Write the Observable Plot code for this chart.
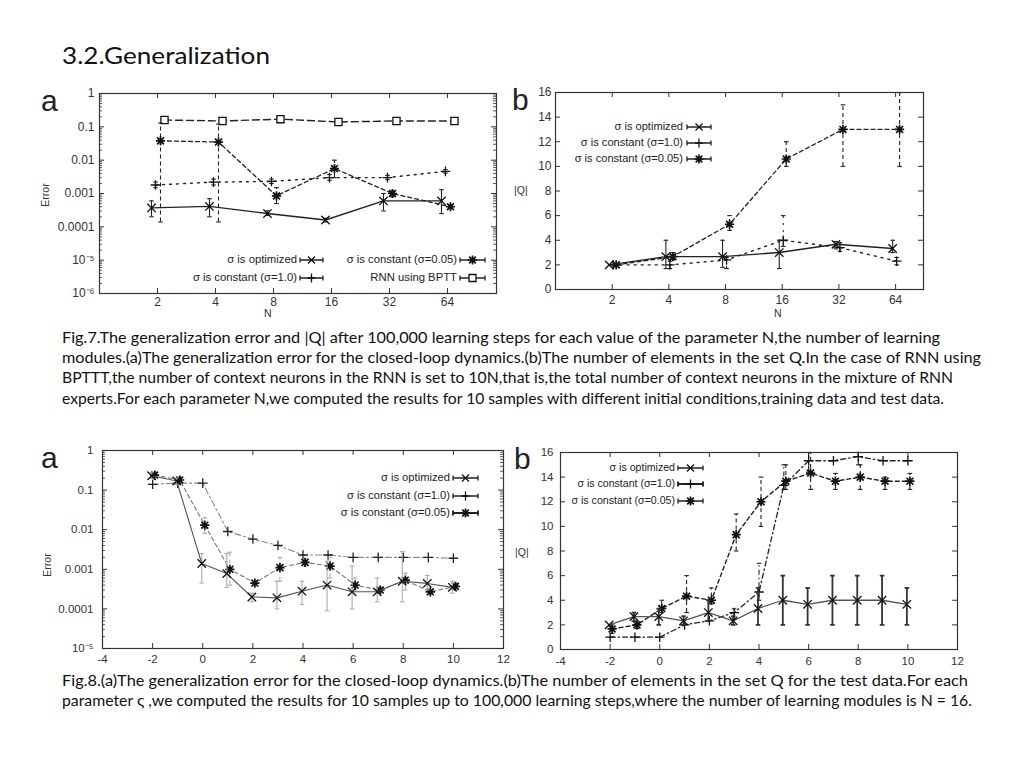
<!DOCTYPE html>
<html><head><meta charset="utf-8">
<script src="https://cdn.jsdelivr.net/npm/d3@7"></script>
<script src="https://cdn.jsdelivr.net/npm/@observablehq/plot@0.6"></script>
<style>
html,body{margin:0;padding:0;background:#fff;}
body{width:1024px;height:768px;position:relative;overflow:hidden;font-family:Lato,"Open Sans",sans-serif;color:#111;}
.fit{position:absolute;white-space:nowrap;display:inline-block;transform-origin:left center;line-height:20px;}
.chart{position:absolute;}
.chart svg{background:transparent;overflow:visible;}
.lbl{position:absolute;font-family:"Liberation Sans",Arial,sans-serif;color:#333;white-space:nowrap;}
.big{font-size:30px;line-height:30px;color:#222;}
.leg{position:absolute;font-family:"Liberation Sans",Arial,sans-serif;color:#222;white-space:nowrap;line-height:13px;}
</style></head><body>
<div class="fit" id="title" data-w="208" style="left:62px;top:41px;font-size:24px;line-height:28px;color:#111;">3.2.Generalization</div>

<div class="fit" data-w="878" style="left:62px;top:327px;font-size:15px;">Fig.7.The generalization error and |Q| after 100,000 learning steps for each value of the parameter N,the number of learning</div>
<div class="fit" data-w="919" style="left:62px;top:347px;font-size:15px;">modules.(a)The generalization error for the closed-loop dynamics.(b)The number of elements in the set Q.In the case of RNN using</div>
<div class="fit" data-w="891" style="left:62px;top:367px;font-size:15px;">BPTTT,the number of context neurons in the RNN is set to 10N,that is,the total number of context neurons in the mixture of RNN</div>
<div class="fit" data-w="882" style="left:62px;top:388px;font-size:15px;">experts.For each parameter N,we computed the results for 10 samples with different initial conditions,training data and test data.</div>

<div class="fit" data-w="906" style="left:62px;top:670px;font-size:15px;">Fig.8.(a)The generalization error for the closed-loop dynamics.(b)The number of elements in the set Q for the test data.For each</div>
<div class="fit" data-w="910" style="left:62px;top:690px;font-size:15px;">parameter ς ,we computed the results for 10 samples up to 100,000 learning steps,where the number of learning modules is N = 16.</div>

<div id="c1" class="chart" style="left:30px;top:85px;"></div>
<div id="c2" class="chart" style="left:505px;top:85px;"></div>
<div id="c3" class="chart" style="left:30px;top:440px;"></div>
<div id="c4" class="chart" style="left:510px;top:440px;"></div>

<div class="lbl big" style="left:41px;top:86px;">a</div>
<div class="lbl big" style="left:512px;top:85px;">b</div>
<div class="lbl big" style="left:41px;top:443px;">a</div>
<div class="lbl big" style="left:514px;top:444px;">b</div>

<div class="lbl" style="left:28px;top:189px;font-size:10.5px;transform:rotate(-90deg);width:34px;text-align:center;">Error</div>
<div class="lbl" style="left:30px;top:559px;font-size:10.5px;transform:rotate(-90deg);width:34px;text-align:center;">Error</div>
<div class="lbl" style="left:264px;top:308px;font-size:10.5px;line-height:11px;">N</div>
<div class="lbl" style="left:774px;top:308px;font-size:10.5px;line-height:11px;">N</div>
<div class="lbl" style="left:514px;top:184px;font-size:10.5px;">|Q|</div>
<div class="lbl" style="left:515px;top:546px;font-size:10.5px;">|Q|</div>

<div id="legends"></div>

<script>
// ---------------- DATA ----------------
const N_VALUES = [2, 4, 8, 16, 32, 64];
const ZETA = [-2, -1, 0, 1, 2, 3, 4, 5, 6, 7, 8, 9, 10];

const LOG_TICKS_7A = [1, 0.1, 0.01, 0.001, 0.0001, 1e-5, 1e-6];
const LOG_LABELS_7A = ["1", "0.1", "0.01", "0.001", "0.0001", "10⁻⁵", "10⁻⁶"];
const LOG_TICKS_8A = [1, 0.1, 0.01, 0.001, 0.0001, 1e-5];
const LOG_LABELS_8A = ["1", "0.1", "0.01", "0.001", "0.0001", "10⁻⁵"];
const Q_TICKS = [0, 2, 4, 6, 8, 10, 12, 14, 16];
const ZETA_TICKS = [-4, -2, 0, 2, 4, 6, 8, 10, 12];

const SERIES_NAMES = ["σ is optimized", "σ is constant (σ=1.0)", "σ is constant (σ=0.05)", "RNN using BPTT"];

// Fig.7(a) error vs N
const f7a_opt   = [0.00037, 0.00041, 0.00025, 0.00016, 0.0006, 0.0006];
const f7a_optLo = [0.0002, 0.0002, 0.00022, 0.00014, 0.0003, 0.00025];
const f7a_optHi = [0.0006, 0.0007, 0.0003, 0.00018, 0.001, 0.0013];
const f7a_s1    = [0.0018, 0.0022, 0.0023, 0.003, 0.003, 0.0046];
const f7a_s1Lo  = [0.0015, 0.0018, 0.002, 0.0025, 0.0026, 0.0041];
const f7a_s1Hi  = [0.0022, 0.0027, 0.0027, 0.0037, 0.0035, 0.0052];
const f7a_s05   = [0.038, 0.035, 0.00085, 0.0056, 0.001, 0.0004];
const f7a_s05Lo = [0.00014, 0.00014, 0.0005, 0.003, 0.0008, 0.00036];
const f7a_s05Hi = [0.13, 0.12, 0.0015, 0.01, 0.0012, 0.00045];
const f7a_bptt  = [0.16, 0.15, 0.17, 0.14, 0.15, 0.15];

// Fig.7(b) |Q| vs N
const f7b_opt   = [2, 2.67, 2.67, 3, 3.67, 3.33];
const f7b_optLo = [2, 1.7, 1.8, 1.7, 3.3, 3];
const f7b_optHi = [2, 4, 4, 4, 3.9, 4];
const f7b_s1    = [2, 2, 2.4, 4, 3.4, 2.3];
const f7b_s1Lo  = [2, 1.7, 1.7, 3.5, 3.1, 2];
const f7b_s1Hi  = [2, 2.3, 2.6, 6, 3.8, 2.6];
const f7b_s05   = [2, 2.67, 5.3, 10.6, 13, 13];
const f7b_s05Lo = [2, 2.4, 4.8, 10, 10, 10];
const f7b_s05Hi = [2, 3, 6, 12, 15, 16];

// Fig.8(a) error vs zeta
const f8a_opt   = [0.23, 0.17, 0.0014, 0.00078, 0.0002, 0.00019, 0.00028, 0.0004, 0.00027, 0.00027, 0.0005, 0.00044, 0.00035];
const f8a_optLo = [0.2, 0.14, 0.00045, 0.00035, 0.00015, 0.0001, 0.00013, 0.00009, 0.0001, 0.00015, 0.00015, 0.0003, 0.00025];
const f8a_optHi = [0.27, 0.2, 0.0025, 0.0025, 0.00025, 0.0005, 0.0005, 0.0016, 0.0012, 0.0006, 0.0028, 0.0007, 0.0005];
const f8a_s1    = [0.14, 0.15, 0.15, 0.009, 0.0058, 0.004, 0.0023, 0.0023, 0.002, 0.002, 0.002, 0.002, 0.0019];
const f8a_s05   = [0.24, 0.18, 0.013, 0.001, 0.00045, 0.0011, 0.0015, 0.0012, 0.0004, 0.0003, 0.00053, 0.00027, 0.00037];
const f8a_s05Lo = [0.21, 0.15, 0.008, 0.0004, 0.00038, 0.0005, 0.0012, 0.0006, 0.0003, 0.00025, 0.0003, 0.00023, 0.0003];
const f8a_s05Hi = [0.27, 0.21, 0.02, 0.0027, 0.0005, 0.002, 0.0018, 0.002, 0.0006, 0.00035, 0.0008, 0.0003, 0.00045];

// Fig.8(b) |Q| vs zeta
const f8b_opt   = [2, 2.67, 2.67, 2.33, 3, 2.33, 3.33, 4, 3.67, 4, 4, 4, 3.67];
const f8b_optLo = [null, 2.3, 2, 2, 2.3, 2, 2, 2, 2, 2, 2, 2, 2];
const f8b_optHi = [null, 3, 3.3, 2.7, 4, 2.7, 5, 6, 5, 6, 6, 6, 5];
const f8b_s1    = [1, 1, 1, 2, 2.33, 3, 4.67, 13.33, 15.33, 15.33, 15.67, 15.33, 15.33];
const f8b_s1Lo  = [null, null, null, null, null, 2.5, 4, 13, 14.5, null, 15, null, null];
const f8b_s1Hi  = [null, null, null, null, null, 3.3, 7, 15, 16, null, 16, null, null];
const f8b_s05   = [1.67, 2, 3.33, 4.33, 4, 9.33, 12, 13.67, 14.33, 13.67, 14, 13.67, 13.67];
const f8b_s05Lo = [1.3, 1.7, 3, 3, 3.7, 8, 10, 13, 13, 13, 13, 13, 13];
const f8b_s05Hi = [2, 2.3, 4, 6, 5, 11, 14, 15, 16, 14.3, 15, 14, 14.3];

// ---------------- SYMBOLS ----------------
const rad = s => Math.sqrt(s / Math.PI);
const capSym = {draw(c, s) { const r = rad(s); c.moveTo(-r, 0); c.lineTo(r, 0); }};
const timesSym = {draw(c, s) { const r = rad(s); c.moveTo(-r, -r); c.lineTo(r, r); c.moveTo(-r, r); c.lineTo(r, -r); }};
const plusSym = {draw(c, s) { const r = rad(s) * 1.2; c.moveTo(-r, 0); c.lineTo(r, 0); c.moveTo(0, -r); c.lineTo(0, r); }};
const starSym = {draw(c, s) { const r = rad(s) * 1.15, q = r * 0.75; c.moveTo(-r, 0); c.lineTo(r, 0); c.moveTo(0, -r); c.lineTo(0, r); c.moveTo(-q, -q); c.lineTo(q, q); c.moveTo(-q, q); c.lineTo(q, -q); }};
const squareSym = {draw(c, s) { const r = rad(s); c.moveTo(-r, -r); c.lineTo(r, -r); c.lineTo(r, r); c.lineTo(-r, r); c.closePath(); }};

function rows(xs, ys, lo, hi) {
  return xs.map((x, i) => ({x, y: ys[i], lo: lo ? lo[i] : null, hi: hi ? hi[i] : null}));
}

function seriesMarks(s) {
  const d = s.data;
  const bars = d.filter(r => r.lo != null && r.hi != null && r.lo !== r.hi);
  const m = [];
  const barStroke = s.barStroke || s.stroke;
  const barWidth = s.barWidth || 1.1;
  m.push(Plot.ruleX(bars, {x: "x", y1: "lo", y2: "hi", dx: s.dx, stroke: barStroke, strokeWidth: barWidth, strokeDasharray: s.barDash || s.dash}));
  m.push(Plot.dot(bars, {x: "x", y: "lo", dx: s.dx, symbol: capSym, r: 2.3, stroke: barStroke, strokeWidth: barWidth, fill: "none"}));
  m.push(Plot.dot(bars, {x: "x", y: "hi", dx: s.dx, symbol: capSym, r: 2.3, stroke: barStroke, strokeWidth: barWidth, fill: "none"}));
  m.push(Plot.line(d, {x: "x", y: "y", dx: s.dx, stroke: s.stroke, strokeWidth: s.width || 1.3, strokeDasharray: s.dash}));
  m.push(Plot.dot(d, {x: "x", y: "y", dx: s.dx, symbol: s.symbol, r: s.r || 4, stroke: s.markStroke || "#111", strokeWidth: s.markWidth || 1.3, fill: s.fill || "none"}));
  return m;
}

function buildChart(cfg) {
  const {width, height, mL, mR, mT, mB} = cfg;
  const iw = width - mL - mR, ih = height - mT - mB;
  const fs = cfg.fontSize || 12;
  const marks = [];
  const tc = "#333";
  marks.push(Plot.tickY(cfg.yTicks, {y: d => d, insetRight: iw - 5, stroke: tc}));
  marks.push(Plot.tickY(cfg.yTicks, {y: d => d, insetLeft: iw - 5, stroke: tc}));
  if (cfg.minorY) {
    marks.push(Plot.tickY(cfg.minorY, {y: d => d, insetRight: iw - 3, stroke: tc, strokeWidth: 0.8}));
    marks.push(Plot.tickY(cfg.minorY, {y: d => d, insetLeft: iw - 3, stroke: tc, strokeWidth: 0.8}));
  }
  marks.push(Plot.tickX(cfg.xTicks, {x: d => d, insetTop: ih - 5, stroke: tc}));
  marks.push(Plot.tickX(cfg.xTicks, {x: d => d, insetBottom: ih - 5, stroke: tc}));
  cfg.series.forEach(s => marks.push(...seriesMarks(s)));
  marks.push(Plot.frame({stroke: "#333", strokeWidth: 1.2}));
  marks.push(Plot.axisX({ticks: cfg.xTicks, tickFormat: d => String(d), tickSize: 0, tickPadding: cfg.xPad || 5, label: null, fontSize: fs, fill: "#333"}));
  marks.push(Plot.axisY({ticks: cfg.yTicks, tickFormat: cfg.yFormat || (d => String(d)), tickSize: 0, tickPadding: cfg.yPad || 5, label: null, fontSize: fs, fill: "#333"}));
  return Plot.plot({
    width, height, marginLeft: mL, marginRight: mR, marginTop: mT, marginBottom: mB,
    x: cfg.x, y: cfg.y,
    style: {background: "transparent", fontFamily: "Liberation Sans, Arial, sans-serif", fontSize: fs + "px", color: "#333"},
    marks
  });
}

function logMinor(lo, hi) {
  const out = [];
  for (let e = Math.round(Math.log10(lo)); e < Math.round(Math.log10(hi)); e++) {
    for (let k = 2; k <= 9; k++) out.push(k * Math.pow(10, e));
  }
  return out;
}
const fmt = (ticks, labels) => d => labels[ticks.indexOf(d)];

// ---- Fig.7a ----
document.getElementById("c1").append(buildChart({
  width: 490, height: 235, mL: 69, mR: 24, mT: 8, mB: 27, fontSize: 12,
  x: {type: "log", base: 2, domain: [1, 115]},
  y: {type: "log", domain: [1e-6, 1]},
  xTicks: N_VALUES, yTicks: LOG_TICKS_7A, yFormat: fmt(LOG_TICKS_7A, LOG_LABELS_7A),
  minorY: logMinor(1e-6, 1), xPad: 4, yPad: 5,
  series: [
    {data: rows(N_VALUES, f7a_bptt), symbol: squareSym, r: 3.6, fill: "white", stroke: "#222", dash: "7,4", dx: 7, width: 1.4},
    {data: rows(N_VALUES, f7a_s05, f7a_s05Lo, f7a_s05Hi), symbol: starSym, r: 4, stroke: "#222", dash: "4,3", dx: 3, width: 1.3, markWidth: 1.7},
    {data: rows(N_VALUES, f7a_s1, f7a_s1Lo, f7a_s1Hi), symbol: plusSym, r: 4, stroke: "#222", dash: "2,5", dx: -2, width: 1.4},
    {data: rows(N_VALUES, f7a_opt, f7a_optLo, f7a_optHi), symbol: timesSym, r: 4.2, stroke: "#222", dx: -6, width: 1.4}
  ]
}));

// ---- Fig.7b ----
document.getElementById("c2").append(buildChart({
  width: 440, height: 230, mL: 50, mR: 22, mT: 7, mB: 26, fontSize: 12,
  x: {type: "log", base: 2, domain: [1, 90]},
  y: {type: "linear", domain: [0, 16]},
  xTicks: N_VALUES, yTicks: Q_TICKS, yPad: 4, xPad: 6,
  series: [
    {data: rows(N_VALUES, f7b_s1, f7b_s1Lo, f7b_s1Hi), symbol: plusSym, r: 4, stroke: "#222", dash: "2,5", dx: 1, width: 1.4},
    {data: rows(N_VALUES, f7b_s05, f7b_s05Lo, f7b_s05Hi), symbol: starSym, r: 4, stroke: "#222", dash: "4,3", dx: 4, width: 1.3, markWidth: 1.7},
    {data: rows(N_VALUES, f7b_opt, f7b_optLo, f7b_optHi), symbol: timesSym, r: 4.2, stroke: "#222", dx: -3, width: 1.4}
  ]
}));

// ---- Fig.8a ----
document.getElementById("c3").append(buildChart({
  width: 490, height: 230, mL: 72, mR: 17, mT: 10, mB: 22, fontSize: 11.5,
  x: {type: "linear", domain: [-4, 12]},
  y: {type: "log", domain: [1e-5, 1]},
  xTicks: ZETA_TICKS, yTicks: LOG_TICKS_8A, yFormat: fmt(LOG_TICKS_8A, LOG_LABELS_8A),
  minorY: logMinor(1e-5, 1), yPad: 9, xPad: 6,
  series: [
    {data: rows(ZETA, f8a_s1), symbol: plusSym, r: 4, stroke: "#888", dash: "6,3,2,3", dx: 0, width: 1.1, markStroke: "#222"},
    {data: rows(ZETA, f8a_s05, f8a_s05Lo, f8a_s05Hi), symbol: starSym, r: 4, stroke: "#777", barStroke: "#aaa", dash: "4,3", dx: 2, width: 1.1, markWidth: 1.7},
    {data: rows(ZETA, f8a_opt, f8a_optLo, f8a_optHi), symbol: timesSym, r: 4.2, stroke: "#555", barStroke: "#aaa", dx: -1, width: 1.1}
  ]
}));

// ---- Fig.8b ----
document.getElementById("c4").append(buildChart({
  width: 470, height: 230, mL: 50, mR: 23, mT: 12, mB: 21, fontSize: 11.5,
  x: {type: "linear", domain: [-4, 12]},
  y: {type: "linear", domain: [0, 16]},
  xTicks: ZETA_TICKS, yTicks: Q_TICKS, yPad: 7, xPad: 7,
  series: [
    {data: rows(ZETA, f8b_s1, f8b_s1Lo, f8b_s1Hi), symbol: plusSym, r: 4, stroke: "#222", dash: "5,3,1.5,3", dx: 0, width: 1.3},
    {data: rows(ZETA, f8b_s05, f8b_s05Lo, f8b_s05Hi), symbol: starSym, r: 4, stroke: "#222", dash: "4,3", dx: 2, width: 1.4, markWidth: 1.7},
    {data: rows(ZETA, f8b_opt, f8b_optLo, f8b_optHi), symbol: timesSym, r: 4.2, stroke: "#555", barStroke: "#333", barWidth: 1.8, barDash: null, dx: -1, width: 1.3}
  ]
}));

// ---------------- LEGENDS (HTML overlay) ----------------
const SYMBOL_PATHS = {
  times: "M-3.5,-3.5L3.5,3.5M-3.5,3.5L3.5,-3.5",
  plus: "M-4,0L4,0M0,-4.5L0,4.5",
  star: "M-4.5,0L4.5,0M0,-4.5L0,4.5M-3.3,-3.3L3.3,3.3M-3.3,3.3L3.3,-3.3",
  square: "M-3.5,-3.5H3.5V3.5H-3.5Z"
};
function legend(textRight, y, symX1, symX2, name, sym, fontSize, bold) {
  const host = document.getElementById("legends");
  const t = document.createElement("div");
  t.className = "leg";
  t.textContent = name;
  t.style.fontSize = fontSize + "px";
  t.style.right = (1024 - textRight) + "px";
  t.style.top = (y - 7) + "px";
  host.append(t);
  const w = symX2 - symX1;
  const ns = "http://www.w3.org/2000/svg";
  const svg = document.createElementNS(ns, "svg");
  svg.setAttribute("width", w + 2); svg.setAttribute("height", 14);
  svg.style.position = "absolute"; svg.style.left = (symX1 - 1) + "px"; svg.style.top = (y - 7) + "px";
  const sw = bold ? 1.9 : 1.3;
  svg.innerHTML = `<path d="M1,7H${w + 1}M1,4.5V9.5M${w + 1},4.5V9.5" stroke="#222" stroke-width="${sw}" fill="none"/>` +
    `<path transform="translate(${w / 2 + 1},7)" d="${SYMBOL_PATHS[sym]}" stroke="#111" stroke-width="${sym === 'star' ? 1.7 : 1.3}" fill="${sym === 'square' ? 'white' : 'none'}"/>`;
  host.append(svg);
}
// Fig 7a
legend(297, 260, 300, 323, SERIES_NAMES[0], "times", 11.3);
legend(297, 278, 300, 323, SERIES_NAMES[1], "plus", 11.3);
legend(457, 260, 460, 485, SERIES_NAMES[2], "star", 11.3);
legend(457, 278, 460, 485, SERIES_NAMES[3], "square", 11.3);
// Fig 7b
legend(683, 127, 687, 711, SERIES_NAMES[0], "times", 11.1);
legend(683, 143, 687, 711, SERIES_NAMES[1], "plus", 11.1);
legend(683, 159, 687, 711, SERIES_NAMES[2], "star", 11.1);
// Fig 8a
legend(450, 478, 453, 478, SERIES_NAMES[0], "times", 11.2);
legend(450, 496, 453, 478, SERIES_NAMES[1], "plus", 11.2);
legend(450, 513, 453, 478, SERIES_NAMES[2], "star", 11.2, true);
// Fig 8b
legend(675, 468, 678, 703, SERIES_NAMES[0], "times", 10.6);
legend(675, 484, 678, 703, SERIES_NAMES[1], "plus", 10.6, true);
legend(675, 501, 678, 703, SERIES_NAMES[2], "star", 10.6);

// ---------------- fit text widths ----------------
document.querySelectorAll(".fit").forEach(el => {
  const target = +el.dataset.w;
  const actual = el.getBoundingClientRect().width;
  if (actual > 0) el.style.transform = `scaleX(${target / actual})`;
});
</script>
</body></html>
